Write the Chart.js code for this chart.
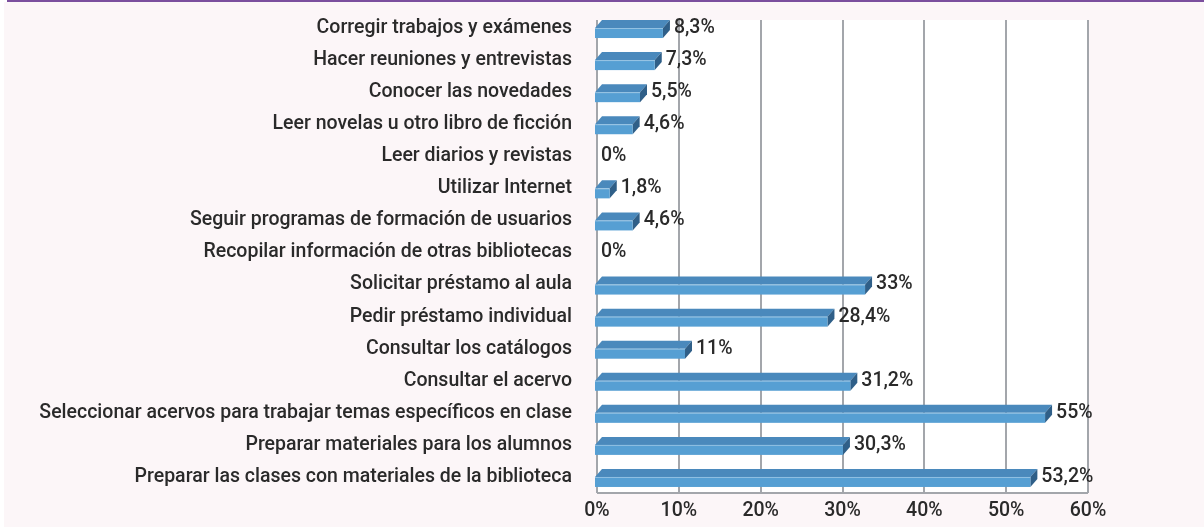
<!DOCTYPE html>
<html>
<head>
<meta charset="utf-8">
<script src="https://cdn.jsdelivr.net/npm/chart.js@4.4.1/dist/chart.umd.min.js"></script>
<style>
    html, body { margin: 0; padding: 0; background: #fff; }
    canvas { display: block; }
</style>
</head>
<body>
<canvas id="myChart" width="1204" height="527"></canvas>
<script>
// activities, top to bottom
const categories = [
    'Corregir trabajos y exámenes',
    'Hacer reuniones y entrevistas',
    'Conocer las novedades',
    'Leer novelas u otro libro de ficción',
    'Leer diarios y revistas',
    'Utilizar Internet',
    'Seguir programas de formación de usuarios',
    'Recopilar información de otras bibliotecas',
    'Solicitar préstamo al aula',
    'Pedir préstamo individual',
    'Consultar los catálogos',
    'Consultar el acervo',
    'Seleccionar acervos para trabajar temas específicos en clase',
    'Preparar materiales para los alumnos',
    'Preparar las clases con materiales de la biblioteca'
];
const percentages = [8.3, 7.3, 5.5, 4.6, 0, 1.8, 4.6, 0, 33, 28.4, 11, 31.2, 55, 30.3, 53.2];
const axisTicks = [0, 10, 20, 30, 40, 50, 60];

const FONT = "Roboto, 'Open Sans', sans-serif";
const FONT_SIZE = 19.5;
const TEXT = '#2a2a2a';

// 3d look of the bars
const DEPTH_X = 7, DEPTH_Y = 8, SHIFT = 2;
const FRONT = '#569fd3', TOP = '#4a89bc', SIDE = '#2f5f88';

const fmt = v => String(v).replace('.', ',') + '%';

// page background, purple rule, white wall with gridlines
const backdrop = {
    id: 'backdrop',
    beforeDraw(chart) {
        const { ctx, chartArea, scales } = chart;
        const x = scales.x;
        ctx.save();
        ctx.fillStyle = '#ffffff';
        ctx.fillRect(0, 0, chart.width, chart.height);
        ctx.fillStyle = '#fcf6f8';
        ctx.fillRect(4, 2, chart.width - 4, chart.height - 2);
        ctx.fillStyle = '#7b4f9e';
        ctx.fillRect(7, 0, chart.width - 7, 2);

        const left = x.getPixelForValue(x.min);
        const right = x.getPixelForValue(x.max);
        const top = chartArea.top + DEPTH_Y;
        ctx.fillStyle = '#ffffff';
        ctx.fillRect(left, top, right - left, chartArea.bottom - top);

        ctx.strokeStyle = '#a3a6ab';
        ctx.lineWidth = 2;
        x.ticks.forEach(t => {
            const px = Math.round(x.getPixelForValue(t.value));
            ctx.beginPath();
            ctx.moveTo(px, top);
            ctx.lineTo(px, chartArea.bottom);
            ctx.stroke();
        });
        ctx.beginPath();
        ctx.moveTo(left, chartArea.bottom);
        ctx.lineTo(right, chartArea.bottom);
        ctx.stroke();
        ctx.restore();
    }
};

// extruded bars + value labels
const bars3d = {
    id: 'bars3d',
    afterDatasetsDraw(chart) {
        const { ctx } = chart;
        const meta = chart.getDatasetMeta(0);
        ctx.save();
        meta.data.forEach((bar, i) => {
            const { x, y, base, height } = bar.getProps(['x', 'y', 'base', 'height'], true);
            const value = percentages[i];
            if (value > 0) {
                const x0 = base - SHIFT, x1 = x - SHIFT;
                const yt = y, yb = y + height;
                // top face
                ctx.fillStyle = TOP;
                ctx.beginPath();
                ctx.moveTo(x0, yt);
                ctx.lineTo(x0 + DEPTH_X, yt - DEPTH_Y);
                ctx.lineTo(x1 + DEPTH_X, yt - DEPTH_Y);
                ctx.lineTo(x1, yt);
                ctx.closePath();
                ctx.fill();
                // right face
                ctx.fillStyle = SIDE;
                ctx.beginPath();
                ctx.moveTo(x1, yt);
                ctx.lineTo(x1 + DEPTH_X, yt - DEPTH_Y);
                ctx.lineTo(x1 + DEPTH_X, yb - DEPTH_Y);
                ctx.lineTo(x1, yb);
                ctx.closePath();
                ctx.fill();
                // front face
                ctx.fillStyle = FRONT;
                ctx.fillRect(x0, yt, x1 - x0, height);
                ctx.fillStyle = 'rgba(255,255,255,0.35)';
                ctx.fillRect(x0, yt, x1 - x0, 1);
            }
            ctx.fillStyle = TEXT;
            ctx.font = '500 ' + FONT_SIZE + 'px ' + FONT;
            ctx.textAlign = 'left';
            ctx.textBaseline = 'middle';
            ctx.fillText(fmt(value), x + (value > 0 ? 9 : 4), y);
        });
        ctx.restore();
    }
};

const ctx = document.getElementById('myChart').getContext('2d');
const myChart = new Chart(ctx, {
    type: 'bar',
    data: {
        labels: categories,
        datasets: [{
            data: percentages,
            backgroundColor: 'rgba(0,0,0,0)',
            borderWidth: 0,
            barThickness: 10
        }]
    },
    options: {
        indexAxis: 'y',
        responsive: false,
        animation: false,
        devicePixelRatio: 1,
        layout: { padding: { top: 12, right: 116, bottom: 0, left: 0 } },
        plugins: {
            legend: { display: false },
            tooltip: { enabled: false }
        },
        scales: {
            y: {
                type: 'category',
                grid: { display: false, drawTicks: false },
                border: { display: false },
                ticks: {
                    color: TEXT,
                    font: { family: FONT, size: FONT_SIZE, weight: '500' },
                    padding: 25,
                    autoSkip: false
                },
                afterFit: scale => {
                    scale.width = 597;
                    scale.paddingTop = 0;
                    scale.paddingBottom = 0;
                }
            },
            x: {
                min: axisTicks[0],
                max: axisTicks[axisTicks.length - 1],
                grid: { display: false, drawTicks: false },
                border: { display: false },
                afterBuildTicks: scale => {
                    scale.ticks = axisTicks.map(v => ({ value: v }));
                },
                ticks: {
                    color: TEXT,
                    font: { family: FONT, size: FONT_SIZE, weight: '500' },
                    padding: 6,
                    callback: v => v + '%'
                },
                afterFit: scale => { scale.height = 34; }
            }
        }
    },
    plugins: [backdrop, bars3d]
});
</script>
</body>
</html>
